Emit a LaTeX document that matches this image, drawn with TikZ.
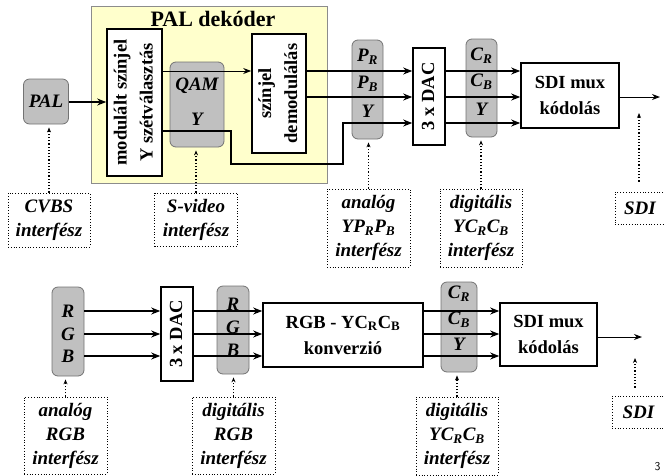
\documentclass[tikz,border=0pt]{standalone}
\usepackage{fontspec}
\setmainfont{Liberation Serif}
\usetikzlibrary{arrows.meta}

\definecolor{decyellow}{RGB}{255,255,204}
\definecolor{chgray}{RGB}{192,192,192}

% rotated text, several lines
\newcommand{\vtext}[1]{\rotatebox{90}{\begin{tabular}{@{}c@{}}#1\end{tabular}}}

\tikzset{
  blk/.style={draw, line width=1.6pt, fill=white, inner sep=0pt, align=center,
    font=\bfseries\fontsize{18.5}{26}\selectfont},
  chan/.style={draw=black!55, line width=0.8pt, fill=chgray, rounded corners=6pt, inner sep=0pt},
  lbl/.style={inner sep=0pt, font=\bfseries\itshape\fontsize{19}{24}\selectfont},
  iface/.style={draw, dotted, line width=0.8pt, inner sep=0pt, align=center,
    font=\bfseries\itshape\fontsize{19}{24}\selectfont},
  sig/.style={line width=1.8pt, -{Stealth[length=9pt,width=7pt]}},
  thinsig/.style={line width=1pt, -{Stealth[length=8pt,width=6pt]}},
  hint/.style={dotted, line width=1.2pt, shorten >=3pt, -{Stealth[length=5pt,width=4pt]}}
}

\begin{document}
\begin{tikzpicture}[x=1pt,y=-1pt]
\useasboundingbox (0,0) rectangle (665,475);

% PAL dekoder
\node[draw=black!45, fill=decyellow, minimum width=236pt, minimum height=177pt] (dec) at (209,94.5) {};
\node[font=\bfseries\fontsize{22}{26}\selectfont] (dectitle) at (213,19) {PAL dekóder};

% upper chain
\node[chan, minimum width=45pt, minimum height=45pt] (pal) at (46,101.5) {};
\node[lbl] (paltxt) at (pal) {PAL};
\node[blk, minimum width=55pt, minimum height=147pt] (sep) at (134.5,102.5) {\vtext{modulált színjel\\Y szétválasztás}};
\node[chan, minimum width=54pt, minimum height=85pt] (qam) at (197,104.5) {};
\node[lbl] (qamtxt) at (197,86) {QAM};
\node[lbl] (qamy) at (197,119) {Y};
\node[blk, minimum width=54pt, minimum height=119pt] (demod) at (279,93.5) {\vtext{színjel\\demodulálás}};
\node[chan, minimum width=31pt, minimum height=99pt] (ppb) at (367.5,89.5) {};
\node[lbl] (pr) at (367.5,57) {P\textsubscript{R}};
\node[lbl] (pb) at (367.5,84) {P\textsubscript{B}};
\node[lbl] (py) at (367.5,111) {Y};
\node[blk, minimum width=32pt, minimum height=97pt] (dac1) at (429,96.5) {\vtext{3 x DAC}};
\node[chan, minimum width=31pt, minimum height=98pt] (ccb) at (481.5,88) {};
\node[lbl] (cr) at (481.5,56) {C\textsubscript{R}};
\node[lbl] (cb) at (481.5,82) {C\textsubscript{B}};
\node[lbl] (cy) at (481.5,109) {Y};
\node[blk, minimum width=98pt, minimum height=65pt] (mux1) at (570,95.5) {SDI mux\\kódolás};

% upper interfaces
\node[iface, minimum width=82pt, minimum height=54pt] (cvbs) at (49,220) {CVBS\\interfész};
\node[iface, minimum width=83pt, minimum height=53pt] (svid) at (196,219.5) {S-video\\interfész};
\node[iface, minimum width=83pt, minimum height=78pt] (anyp) at (368.5,228) {analóg\\YP\textsubscript{R}P\textsubscript{B}\\interfész};
\node[iface, minimum width=82pt, minimum height=78pt] (digyc) at (481,228) {digitális\\YC\textsubscript{R}C\textsubscript{B}\\interfész};
\node[iface, minimum width=50pt, minimum height=32pt] (sdi1) at (640,208) {SDI};

% signal levels
\coordinate (palin) at (0,102);
\coordinate (lvr) at (0,71);
\coordinate (lvb) at (0,97);
\coordinate (lvy) at (0,123);
\coordinate (lvq) at (0,131);
\coordinate (ybend) at (231,164);
\coordinate (yup) at (343,164);
\coordinate (sdiout1) at (660,97);
\coordinate (sdihint1) at (639,110);

\draw[sig] (pal.east |- palin) -- (sep.west |- palin);
\draw[thinsig] (sep.east |- lvr) -- (demod.west |- lvr);
\draw[sig] (demod.east |- lvr) -- (dac1.west |- lvr);
\draw[sig] (demod.east |- lvb) -- (dac1.west |- lvb);
\draw[sig] (sep.east |- lvq) -| (ybend) -| (yup |- lvy) -- (dac1.west |- lvy);
\draw[sig] (dac1.east |- lvr) -- (mux1.west |- lvr);
\draw[sig] (dac1.east |- lvb) -- (mux1.west |- lvb);
\draw[sig] (dac1.east |- lvy) -- (mux1.west |- lvy);
\draw[thinsig] (mux1.east |- sdiout1) -- (sdiout1);

\draw[hint] (cvbs.north) -- (cvbs.north |- pal.south);
\draw[hint] (svid.north) -- (svid.north |- qam.south);
\draw[hint] (anyp.north) -- (anyp.north |- ppb.south);
\draw[hint] (digyc.north) -- (digyc.north |- ccb.south);
\draw[hint, shorten <=10pt] (sdi1.north -| sdihint1) -- (sdihint1);

% lower chain
\node[chan, minimum width=32pt, minimum height=89pt] (rgba) at (68,331.5) {};
\node[lbl] (ra) at (68,311) {R};
\node[lbl] (ga) at (68,334) {G};
\node[lbl] (ba) at (68,356) {B};
\node[blk, minimum width=32pt, minimum height=94pt] (dac2) at (177,334) {\vtext{3 x DAC}};
\node[chan, minimum width=32pt, minimum height=88pt] (rgbd) at (233,330) {};
\node[lbl] (rd) at (233,304) {R};
\node[lbl] (gd) at (233,327) {G};
\node[lbl] (bd) at (233,350) {B};
\node[blk, minimum width=160pt, minimum height=64pt] (conv) at (343,335) {RGB - YC\textsubscript{R}C\textsubscript{B}\\konverzió};
\node[chan, minimum width=36pt, minimum height=90pt] (ccb2) at (459,327) {};
\node[lbl] (cr2) at (459,294) {C\textsubscript{R}};
\node[lbl] (cb2) at (459,320) {C\textsubscript{B}};
\node[lbl] (cy2) at (459,344) {Y};
\node[blk, minimum width=97pt, minimum height=63pt] (mux2) at (548.5,334.5) {SDI mux\\kódolás};

% lower interfaces
\node[iface, minimum width=83pt, minimum height=77pt] (argb) at (65.5,435.5) {analóg\\RGB\\interfész};
\node[iface, minimum width=83pt, minimum height=77pt] (drgb) at (233.5,435.5) {digitális\\RGB\\interfész};
\node[iface, minimum width=82pt, minimum height=78pt] (dyc2) at (457,436) {digitális\\YC\textsubscript{R}C\textsubscript{B}\\interfész};
\node[iface, minimum width=53pt, minimum height=32pt] (sdi2) at (638.5,412) {SDI};

\coordinate (sdiout2) at (642,337);
\coordinate (sdihint2) at (635,355);

\draw[sig] (ra -| rgba.east) -- (ra -| dac2.west);
\draw[sig] (ga -| rgba.east) -- (ga -| dac2.west);
\draw[sig] (ba -| rgba.east) -- (ba -| dac2.west);
\draw[sig] (ra -| dac2.east) -- (ra -| conv.west);
\draw[sig] (ga -| dac2.east) -- (ga -| conv.west);
\draw[sig] (ba -| dac2.east) -- (ba -| conv.west);
\draw[sig] (ra -| conv.east) -- (ra -| mux2.west);
\draw[sig] (ga -| conv.east) -- (ga -| mux2.west);
\draw[sig] (ba -| conv.east) -- (ba -| mux2.west);
\draw[thinsig] (mux2.east |- sdiout2) -- (sdiout2);

\draw[hint] (argb.north) -- (argb.north |- rgba.south);
\draw[hint] (drgb.north) -- (drgb.north |- rgbd.south);
\draw[hint] (dyc2.north) -- (dyc2.north |- ccb2.south);
\draw[hint, shorten <=8pt] (sdi2.north -| sdihint2) -- (sdihint2);

\node[anchor=east, font=\sffamily\fontsize{12}{12}\selectfont] (pgno) at (664,467) {3};
\end{tikzpicture}
\end{document}
